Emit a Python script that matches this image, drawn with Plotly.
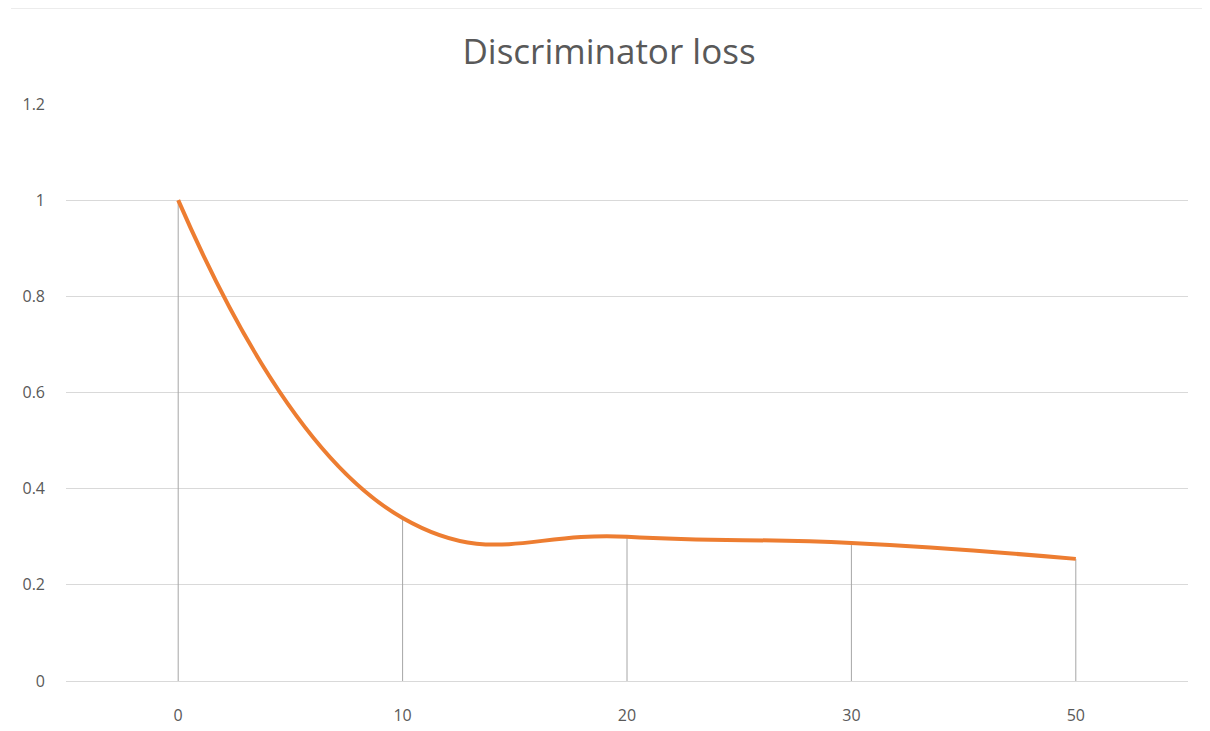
import plotly.graph_objects as go

categories = ["0", "10", "20", "30", "50"]
loss = [1.0, 0.339, 0.300, 0.287, 0.254]
y_ticks = [0, 0.2, 0.4, 0.6, 0.8, 1.0, 1.2]
y_tick_labels = ["0", "0.2", "0.4", "0.6", "0.8", "1", "1.2"]

fig = go.Figure()
fig.add_trace(go.Scatter(
    x=categories, y=loss, mode="lines",
    line=dict(color="#ED7D31", width=4, shape="spline", smoothing=1.3),
    error_y=dict(type="data", symmetric=False, array=[0] * len(loss),
                 arrayminus=loss, color="#a6a6a6", thickness=1, width=0),
    showlegend=False,
))

# page body has an 8px margin, so the figure is offset by (8, 8)
W, H = 1202, 723
ml, mr, mt, mb = 58, 22, 96, 50
pw = W - ml - mr
ph = H - mt - mb

fig.update_layout(
    width=W, height=H,
    margin=dict(l=ml, r=mr, t=mt, b=mb, autoexpand=False),
    paper_bgcolor="white", plot_bgcolor="white",
    font=dict(family="Open Sans, Liberation Sans, sans-serif", color="#595959"),
    title=dict(text="Discriminator loss", x=0.5, xanchor="center",
               y=1 - 44 / H, yanchor="middle",
               font=dict(size=35, color="#595959")),
    xaxis=dict(type="category", range=[-0.5, 4.5], showgrid=False,
               showline=False, zeroline=False, ticks="", automargin=False,
               tickfont=dict(size=16, color="#595959"),
               ticklabelstandoff=23),
    yaxis=dict(range=[0, 1.2], tickvals=y_ticks, ticktext=y_tick_labels,
               showgrid=True, gridcolor="#d9d9d9", gridwidth=1,
               zeroline=True, zerolinecolor="#d9d9d9", zerolinewidth=1,
               showline=False, ticks="", automargin=False,
               tickfont=dict(size=16, color="#595959"),
               ticklabelstandoff=20),
    shapes=[dict(type="line", xref="paper", yref="paper",
                 x0=-(ml - 3) / pw, x1=(1207 - 8 - ml) / pw,
                 y0=1 + mt / ph, y1=1 + mt / ph,
                 line=dict(color="#d9d9d9", width=1))],
)

fig.write_html("out.html")
